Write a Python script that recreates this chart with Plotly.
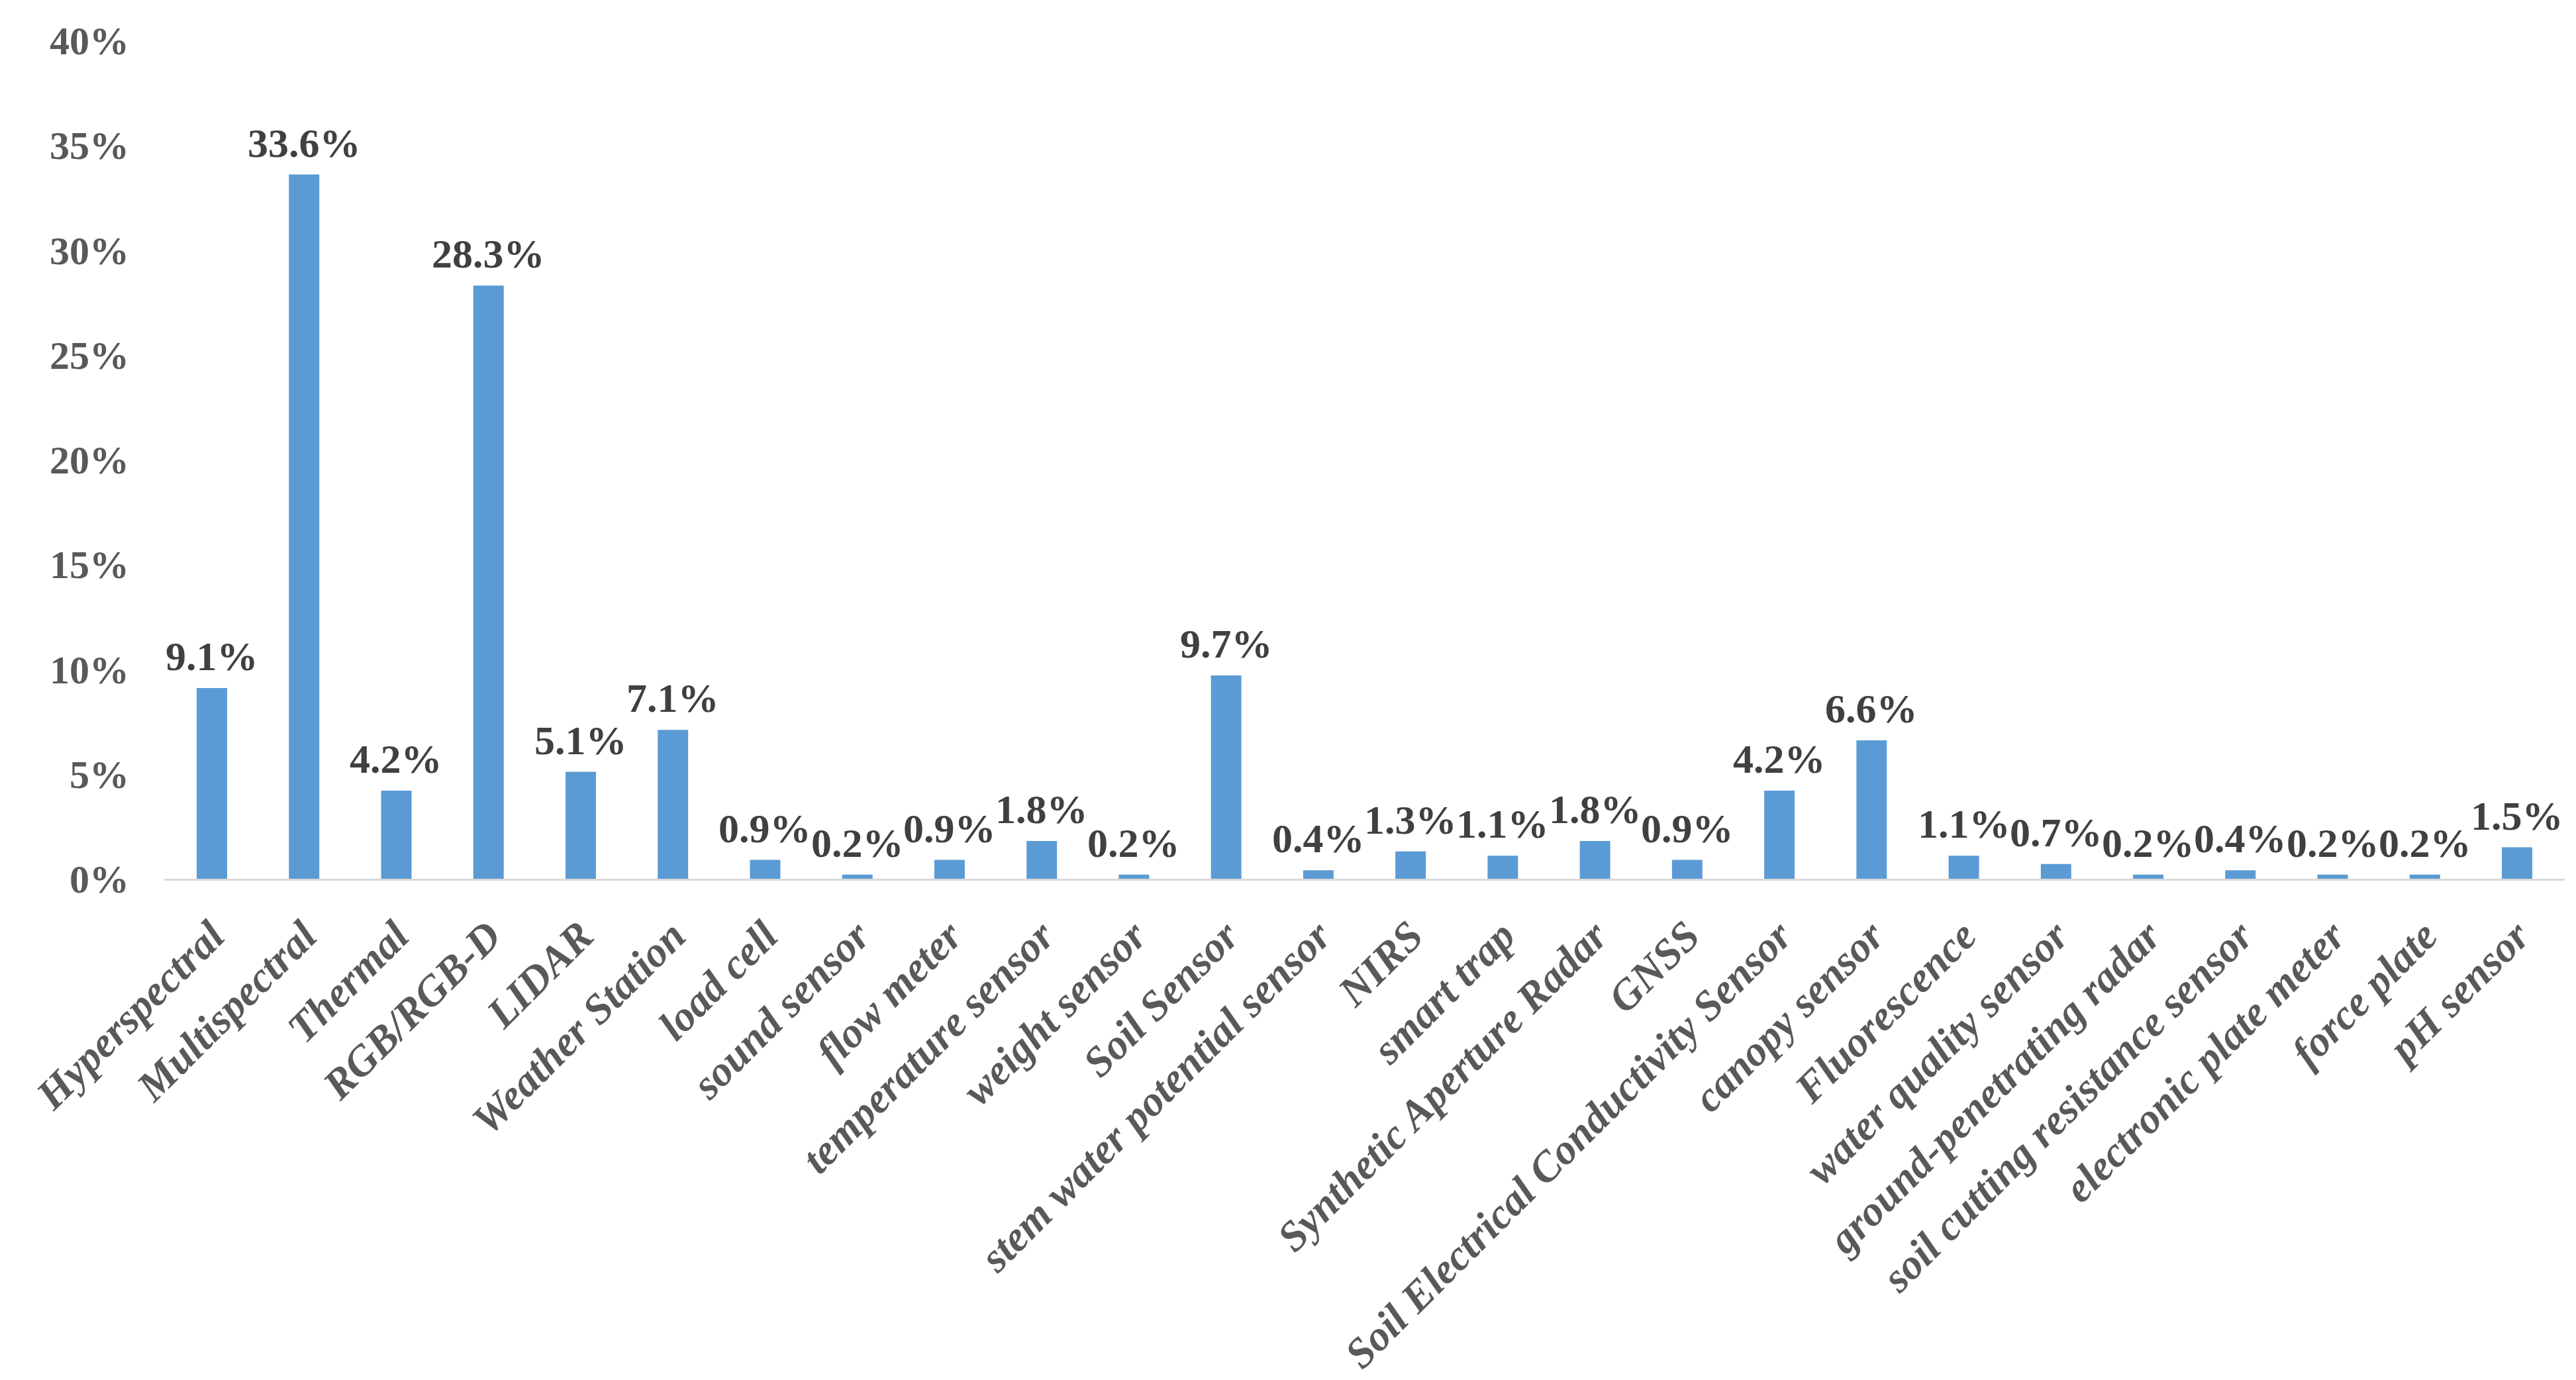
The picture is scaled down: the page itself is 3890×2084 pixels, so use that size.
import plotly.graph_objects as go

categories = ["Hyperspectral", "Multispectral", "Thermal", "RGB/RGB-D", "LIDAR", "Weather Station",
              "load cell", "sound sensor", "flow meter", "temperature sensor", "weight sensor",
              "Soil Sensor", "stem water potential sensor", "NIRS", "smart trap",
              "Synthetic Aperture Radar", "GNSS", "Soil Electrical Conductivity Sensor",
              "canopy sensor", "Fluorescence", "water quality sensor", "ground-penetrating radar",
              "soil cutting resistance sensor", "electronic plate meter", "force plate", "pH sensor"]
values = [9.1, 33.6, 4.2, 28.3, 5.1, 7.1, 0.9, 0.2, 0.9, 1.8, 0.2, 9.7, 0.4, 1.3, 1.1,
          1.8, 0.9, 4.2, 6.6, 1.1, 0.7, 0.2, 0.4, 0.2, 0.2, 1.5]
y_ticks = [0, 5, 10, 15, 20, 25, 30, 35, 40]
y_tick_labels = ["0%", "5%", "10%", "15%", "20%", "25%", "30%", "35%", "40%"]

FONT = "Liberation Serif"

fig = go.Figure(go.Bar(
    x=categories, y=values,
    marker=dict(color="#5B9BD5", line=dict(width=0)),
))

for c, v in zip(categories, values):
    fig.add_annotation(
        x=c, y=v, text=f"{v:.1f}%", showarrow=False, yanchor="bottom", yshift=12,
        font=dict(family=FONT, size=62, color="#404040", weight="bold"),
    )

fig.update_layout(
    width=3890, height=2084,
    margin=dict(l=240, r=25, t=53, b=751),
    paper_bgcolor="white", plot_bgcolor="white",
    bargap=0.67, showlegend=False,
    font=dict(family=FONT),
)
fig.update_xaxes(
    tickangle=-45, showgrid=False, showline=True, linecolor="#D9D9D9", linewidth=3,
    ticks="", ticklabelstandoff=20,
    tickfont=dict(family=FONT, size=64, color="#595959", weight="bold", style="italic"),
)
fig.update_yaxes(
    range=[0, 40], tickvals=y_ticks, ticktext=y_tick_labels, showgrid=False, showline=False,
    zeroline=False, ticks="", ticklabelstandoff=52,
    tickfont=dict(family=FONT, size=60, color="#595959", weight="bold"),
)

fig.write_html("out.html")
